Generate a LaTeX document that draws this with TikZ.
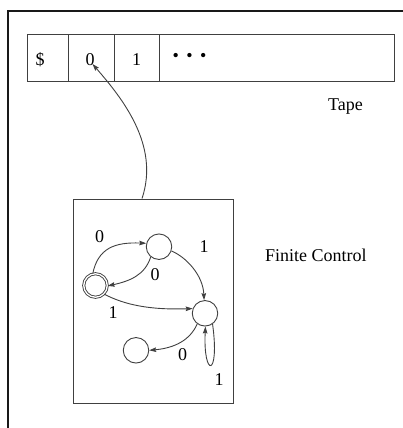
\documentclass[tikz,border=0pt]{standalone}
\usepackage{fontspec}
\setmainfont{Liberation Serif}
\usetikzlibrary{arrows.meta}
\begin{document}
\begin{tikzpicture}[x=1pt,y=-1pt,
  font=\fontsize{18}{20}\selectfont,
  ln/.style={draw=black!75, line width=0.9pt},
  cell/.style={ln, rectangle, minimum height=47pt, inner sep=0pt, anchor=north west},
  txt/.style={inner sep=0pt, anchor=base},
  st/.style={ln, circle, minimum size=25.5pt, inner sep=0pt},
  acc/.style={st, double=white, double distance=1.3pt, minimum size=23.5pt},
  arr/.style={ln, -{Stealth[length=7pt,width=4.6pt,inset=1pt]}}]
\useasboundingbox (0,0) rectangle (403,428);

% outer frame (top and left sides)
\draw[line width=1.6pt, black!90] (403,11) -- (8,11) -- (8,428);

% tape cells
\node[cell, minimum width=41pt]  (c1) at (27,34)  {};
\node[cell, minimum width=46pt]  (c2) at (68,34)  {};
\node[cell, minimum width=45pt]  (c3) at (114,34) {};
\node[cell, minimum width=235pt] (c4) at (159,34) {};
\node[txt] (s1) at (40,65.5)  {\$};
\node[txt] (s2) at (90,65.5)  {0};
\node[txt] (s3) at (136.5,65.5) {1};
\node[txt] (s4) at (189.5,62) {•\hspace{7.5pt}•\hspace{7.5pt}•};
\node[txt, anchor=base west] (tape) at (328,110) {Tape};

% finite control box
\node[ln, rectangle, minimum width=160pt, minimum height=204pt, inner sep=0pt] (fc) at (153,301) {};
\node[txt, anchor=base west] (fclab) at (265,261) {Finite Control};

% read head
\coordinate (head) at (92.5,64);
\draw[arr] ([xshift=-11pt]fc.north) .. controls (160,145) and (122,98) .. (head);

% states
\node[st]  (A) at (159,246.7) {};
\node[acc] (B) at (95.5,285.5) {};
\node[st]  (C) at (205,313.3) {};
\node[st]  (D) at (136,350.3) {};

% transitions
\draw[arr] (B.103) .. controls (98,248) and (115,242) .. (A.165);
\draw[arr] (A.231) .. controls (145,275) and (130,281) .. (B.358);
\draw[arr] (A.-19) .. controls (186,257) and (203,275) .. (C.94);
\draw[arr] (B.-45) .. controls (125,305) and (150,310) .. (C.159);
\draw[arr] (C.234) .. controls (190,340) and (175,348) .. (D.0);
\draw[arr] (C.-55) .. controls (220,378) and (203,378) .. (C.-88);

% transition labels
\node[txt] (l1) at (99.7,242.7) {0};
\node[txt] (l2) at (155,280)    {0};
\node[txt] (l3) at (204,252.7)  {1};
\node[txt] (l4) at (113,318)    {1};
\node[txt] (l5) at (182.5,360)  {0};
\node[txt] (l6) at (219,385)    {1};
\end{tikzpicture}
\end{document}
